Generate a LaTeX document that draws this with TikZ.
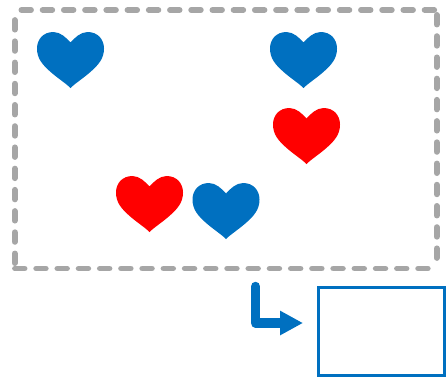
\documentclass[tikz,border=0pt]{standalone}
\usetikzlibrary{arrows.meta}
\definecolor{hblue}{HTML}{0070C0}
\definecolor{hred}{HTML}{FF0000}
\definecolor{fgray}{HTML}{A6A6A6}
\tikzset{
  heartshape/.pic={
    \fill[pic actions] (0,10.5) .. controls (-4,6) and (-10,0) .. (-17,0)
      .. controls (-27,0) and (-33.5,7) .. (-33.5,16.5)
      .. controls (-33.5,26.5) and (-28,32.5) .. (-21.5,38.5)
      .. controls (-14,45.5) and (-5,51) .. (0,56)
      .. controls (5,51) and (14,45.5) .. (21.5,38.5)
      .. controls (28,32.5) and (33.5,26.5) .. (33.5,16.5)
      .. controls (33.5,7) and (27,0) .. (17,0)
      .. controls (10,0) and (4,6) .. (0,10.5) -- cycle;
  },
  frameline/.style={draw=fgray,line width=6pt,line cap=round,line join=round,dash pattern=on 9.5pt off 11.8pt},
  targetbox/.style={draw=hblue,line width=2.5pt,fill=white,minimum width=126bp,minimum height=88bp,inner sep=0pt,outer sep=0pt},
  flowarrow/.style={draw=hblue,line width=9.5pt,line cap=round,line join=round,-{Triangle[length=23bp,width=23bp]}}
}
\begin{document}
\begin{tikzpicture}[x=1bp,y=-1bp]
\useasboundingbox (0,0) rectangle (448,377);
\coordinate (tl) at (14.7,10);
\coordinate (tr) at (436.7,10);
\coordinate (br) at (436.7,268.5);
\coordinate (bl) at (14.7,268.5);
\draw[frameline] (21.5,10) -- (tr);
\draw[frameline] (436.7,15) -- (br);
\draw[frameline] (427.7,268.5) -- (bl);
\draw[frameline] (14.7,263) -- (tl);
\pic[fill=hblue] at (70.5,32) {heartshape};
\pic[fill=hblue] at (303.5,32) {heartshape};
\pic[fill=hred] at (306.5,108) {heartshape};
\pic[fill=hred] at (149.5,176) {heartshape};
\pic[fill=hblue] at (226,183) {heartshape};
\node[targetbox] (box) at (381.5,331.5) {};
\coordinate (astart) at (255.5,286.5);
\coordinate (aend) at (303,323);
\draw[flowarrow] (astart) |- (aend);
\end{tikzpicture}
\end{document}
